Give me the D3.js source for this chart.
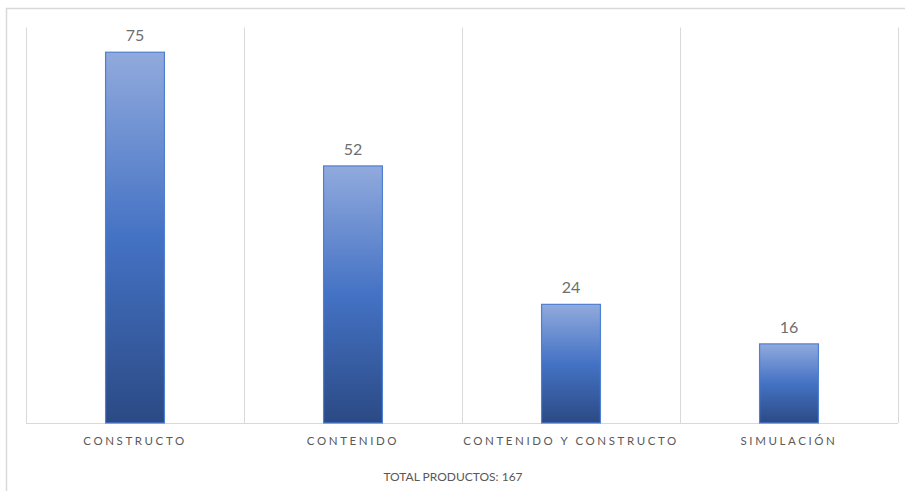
<!DOCTYPE html>
<html><head><meta charset="utf-8">
<script src="https://cdn.jsdelivr.net/npm/d3@7/dist/d3.min.js"></script>
<style>
html,body{margin:0;padding:0;background:#fff;}
svg{display:block;font-family:Lato, "Open Sans", sans-serif;}
</style></head>
<body>
<svg id="chart" width="905" height="491"></svg>
<script>
const categories = ["CONSTRUCTO", "CONTENIDO", "CONTENIDO Y CONSTRUCTO", "SIMULACIÓN"];
const values = [75, 52, 24, 16];
const yMax = 80;
const footer = "TOTAL PRODUCTOS: 167";

(function(){
const svg = d3.select("#chart");
const W = 905, H = 491;
const mLeft = 26, mRight = 898, mTop = 27.5, mBottom = 423;

// outer border (top & left visible)
svg.append("path").attr("d", `M6.5,${H+2} V8.5 H${W+2}`)
  .attr("fill","none").attr("stroke","#d9d9d9").attr("stroke-width",1.5);

const x = d3.scaleBand().domain(categories).range([mLeft, mRight]).paddingInner(0).paddingOuter(0);
const y = d3.scaleLinear().domain([0, yMax]).range([mBottom, mTop]);

const defs = svg.append("defs");
const g = defs.append("linearGradient").attr("id","barGrad").attr("x1","0").attr("y1","0").attr("x2","0").attr("y2","1");
g.append("stop").attr("offset","0%").attr("stop-color","#91aadd");
g.append("stop").attr("offset","50%").attr("stop-color","#4472c4");
g.append("stop").attr("offset","100%").attr("stop-color","#2b4a84");

// vertical gridlines at band boundaries
const bounds = categories.map(c => x(c)).concat([x(categories[categories.length-1]) + x.bandwidth()]);
svg.append("g").selectAll("line").data(bounds).join("line")
  .attr("x1", d => d + 0.5).attr("x2", d => d + 0.5)
  .attr("y1", y(yMax)).attr("y2", mBottom)
  .attr("stroke","#d9d9d9").attr("stroke-width",1);

// baseline
svg.append("line").attr("x1", mLeft).attr("x2", mRight).attr("y1", mBottom+0.5).attr("y2", mBottom+0.5)
  .attr("stroke","#d9d9d9").attr("stroke-width",1);

const barW = x.bandwidth() * 0.27;
svg.append("g").selectAll("rect").data(values).join("rect")
  .attr("x", (d,i) => x(categories[i]) + x.bandwidth()/2 - barW/2)
  .attr("y", d => y(d))
  .attr("width", barW)
  .attr("height", d => mBottom - y(d))
  .attr("fill","url(#barGrad)")
  .attr("stroke","#4f7fd2").attr("stroke-width",1.2);

// value labels
svg.append("g").selectAll("text").data(values).join("text")
  .attr("x", (d,i) => x(categories[i]) + x.bandwidth()/2)
  .attr("y", d => y(d) - 11)
  .attr("text-anchor","middle")
  .attr("font-size", 16).attr("fill","#6e6e6e")
  .text(d => d);

// category labels
svg.append("g").selectAll("text").data(categories).join("text")
  .attr("x", c => x(c) + x.bandwidth()/2)
  .attr("y", 445)
  .attr("text-anchor","middle")
  .attr("font-size", 11.5).attr("fill","#595959")
  .attr("letter-spacing", "2.6px")
  .text(c => c);

svg.append("text").attr("x", 453).attr("y", 481).attr("text-anchor","middle")
  .attr("font-size", 12).attr("fill","#595959").text(footer);
})();
</script>
</body></html>
